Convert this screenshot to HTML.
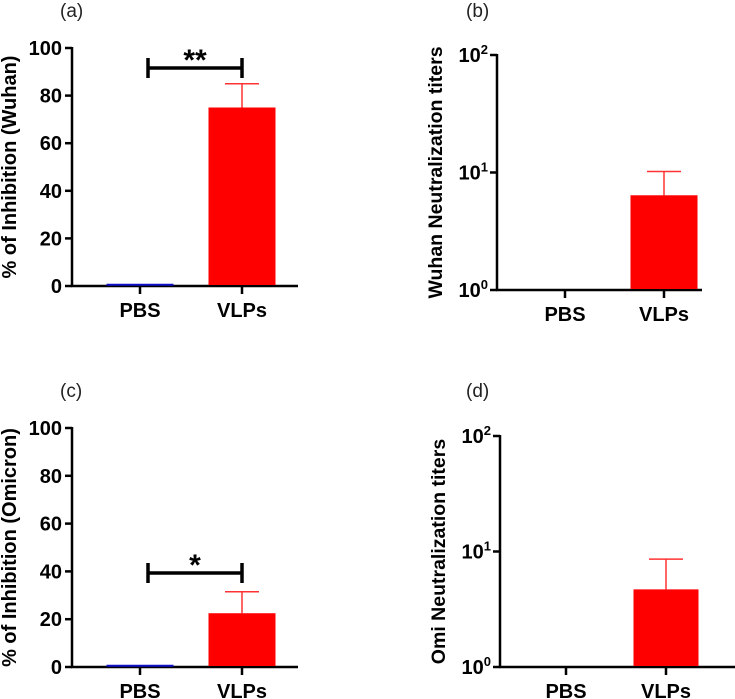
<!DOCTYPE html>
<html><head><meta charset="utf-8"><style>
body{margin:0;background:#fff;}
svg{display:block;font-family:"Liberation Sans",Arial,sans-serif;}
</style></head><body>
<svg id="fig" width="735" height="699" xmlns="http://www.w3.org/2000/svg"></svg>
<script>
const categories = ["PBS", "VLPs"];
const wuhanInhibition = [0.5, 75];
const wuhanInhibitionErr = [0, 10];
const omicronInhibition = [0.5, 22.5];
const omicronInhibitionErr = [0, 9];
const wuhanTiters = [1, 6.4];
const wuhanTitersErr = [1, 10.2];
const omiTiters = [1, 4.7];
const omiTitersErr = [1, 8.6];
const linTicks = [0, 20, 40, 60, 80, 100];
const logTicks = [0, 1, 2];

const NS = "http://www.w3.org/2000/svg";
const svg = document.getElementById("fig");
function el(tag, attrs, parent, text) {
  const e = document.createElementNS(NS, tag);
  for (const k in attrs) e.setAttribute(k, attrs[k]);
  if (text !== undefined) e.textContent = text;
  (parent || svg).appendChild(e);
  return e;
}

function panel(cfg) {
  const g = el("g", {});
  
  
  const yScale = cfg.log
    ? v => cfg.y0 - (Math.log10(v) / 2) * (cfg.y0 - cfg.yTop)
    : v => cfg.y0 - (v / 100) * (cfg.y0 - cfg.yTop);
  const lab = el("text", {x: cfg.labX, y: cfg.labY, "font-size": 19, fill: "#222"}, g, cfg.letter);
  
  
  const ya = el("line", {x1: cfg.ax, y1: cfg.yTop - 1, x2: cfg.ax, y2: cfg.y0 + 1, stroke: "#000", "stroke-width": 2.5}, g);
  
  
  const xa = el("line", {x1: cfg.ax - 1, y1: cfg.y0, x2: cfg.xEnd, y2: cfg.y0, stroke: "#000", "stroke-width": 2.5}, g);
  
  
  const ticks = cfg.log ? logTicks : linTicks;
  ticks.forEach(t => {
    const v = cfg.log ? Math.pow(10, t) : t;
    const y = yScale(v);
    el("line", {x1: cfg.ax - 7, y1: y, x2: cfg.ax, y2: y, stroke: "#000", "stroke-width": 2.5}, g);
    if (cfg.log) {
      const tx = el("text", {x: cfg.ax - 9, y: y + 7, "font-size": 20, "font-weight": "bold", "text-anchor": "end"}, g);
      
      
      el("tspan", {}, tx, "10");
      el("tspan", {dy: -8, "font-size": 13}, tx, String(t));
    } else {
      const tx = el("text", {x: cfg.ax - 10, y: y + 7, "font-size": 20, "font-weight": "bold", "text-anchor": "end"}, g, String(t));
      
      
    }
  });
  const yt = el("text", {x: 0, y: 0, "font-size": cfg.titleSize, "font-weight": "bold", "text-anchor": "middle",
    transform: `translate(${cfg.titleX},${(cfg.y0 + cfg.yTop) / 2}) rotate(-90)`}, g, cfg.title);
  
  
  categories.forEach((c, i) => {
    const cx = cfg.cx[i];
    el("line", {x1: cx, y1: cfg.y0, x2: cx, y2: cfg.y0 + 8, stroke: "#000", "stroke-width": 2.5}, g);
    const xl = el("text", {x: cx, y: cfg.y0 + 31, "font-size": 20, "font-weight": "bold", "text-anchor": "middle"}, g, c);
    
    
    const v = cfg.vals[i], e = cfg.errs[i];
    const half = cfg.barW / 2;
    if (i === 0) {
      if (!cfg.log) {
        const b = el("line", {x1: cx - half, y1: yScale(v), x2: cx + half, y2: yScale(v), stroke: "#1010c8", "stroke-width": 2}, g);
        
        
      }
    } else {
      const top = yScale(v);
      const et = yScale(cfg.log ? e : v + e);
      const er = el("line", {x1: cx, y1: et, x2: cx, y2: top, stroke: "#f33", "stroke-width": 1.5}, g);
      
      
      el("line", {x1: cx - 17, y1: et, x2: cx + 17, y2: et, stroke: "#f33", "stroke-width": 1.5}, g);
      const b = el("rect", {x: cx - half, y: top, width: cfg.barW, height: cfg.y0 - top - 1, fill: "#ff0000"}, g);
      
      
    }
  });
  if (cfg.sig) {
    const by = cfg.sigY;
    const s = el("g", {}, g);
    
    
    el("line", {x1: cfg.cx[0] + 8, y1: by, x2: cfg.cx[1], y2: by, stroke: "#000", "stroke-width": 3.5}, s);
    el("line", {x1: cfg.cx[0] + 8, y1: by - 10, x2: cfg.cx[0] + 8, y2: by + 10, stroke: "#000", "stroke-width": 3.5}, s);
    el("line", {x1: cfg.cx[1], y1: by - 10, x2: cfg.cx[1], y2: by + 10, stroke: "#000", "stroke-width": 3.5}, s);
    el("text", {x: (cfg.cx[0] + 8 + cfg.cx[1]) / 2, y: by + 2, "font-size": 30, "font-weight": "bold", "text-anchor": "middle"}, s, cfg.sig);
  }
}

panel({name: "panel-a", letter: "(a)", labX: 60, labY: 17, ax: 72, xEnd: 298, yTop: 48, y0: 286, log: false,
  cx: [140, 242], barW: 67, vals: wuhanInhibition, errs: wuhanInhibitionErr,
  title: "% of Inhibition (Wuhan)", titleSize: 20, titleX: 16, sig: "**", sigY: 68});
panel({name: "panel-b", letter: "(b)", labX: 466, labY: 17, ax: 497, xEnd: 702, yTop: 55, y0: 290, log: true,
  cx: [565, 664], barW: 67, vals: wuhanTiters, errs: wuhanTitersErr,
  title: "Wuhan Neutralization titers", titleSize: 19.5, titleX: 442});
panel({name: "panel-c", letter: "(c)", labX: 60, labY: 397, ax: 72, xEnd: 298, yTop: 428, y0: 667, log: false,
  cx: [140, 242], barW: 67, vals: omicronInhibition, errs: omicronInhibitionErr,
  title: "% of Inhibition (Omicron)", titleSize: 20, titleX: 16, sig: "*", sigY: 573});
panel({name: "panel-d", letter: "(d)", labX: 466, labY: 397, ax: 500, xEnd: 735, yTop: 436, y0: 667, log: true,
  cx: [566, 666], barW: 65, vals: omiTiters, errs: omiTitersErr,
  title: "Omi Neutralization titers", titleSize: 19.5, titleX: 445});
</script>
</body></html>
